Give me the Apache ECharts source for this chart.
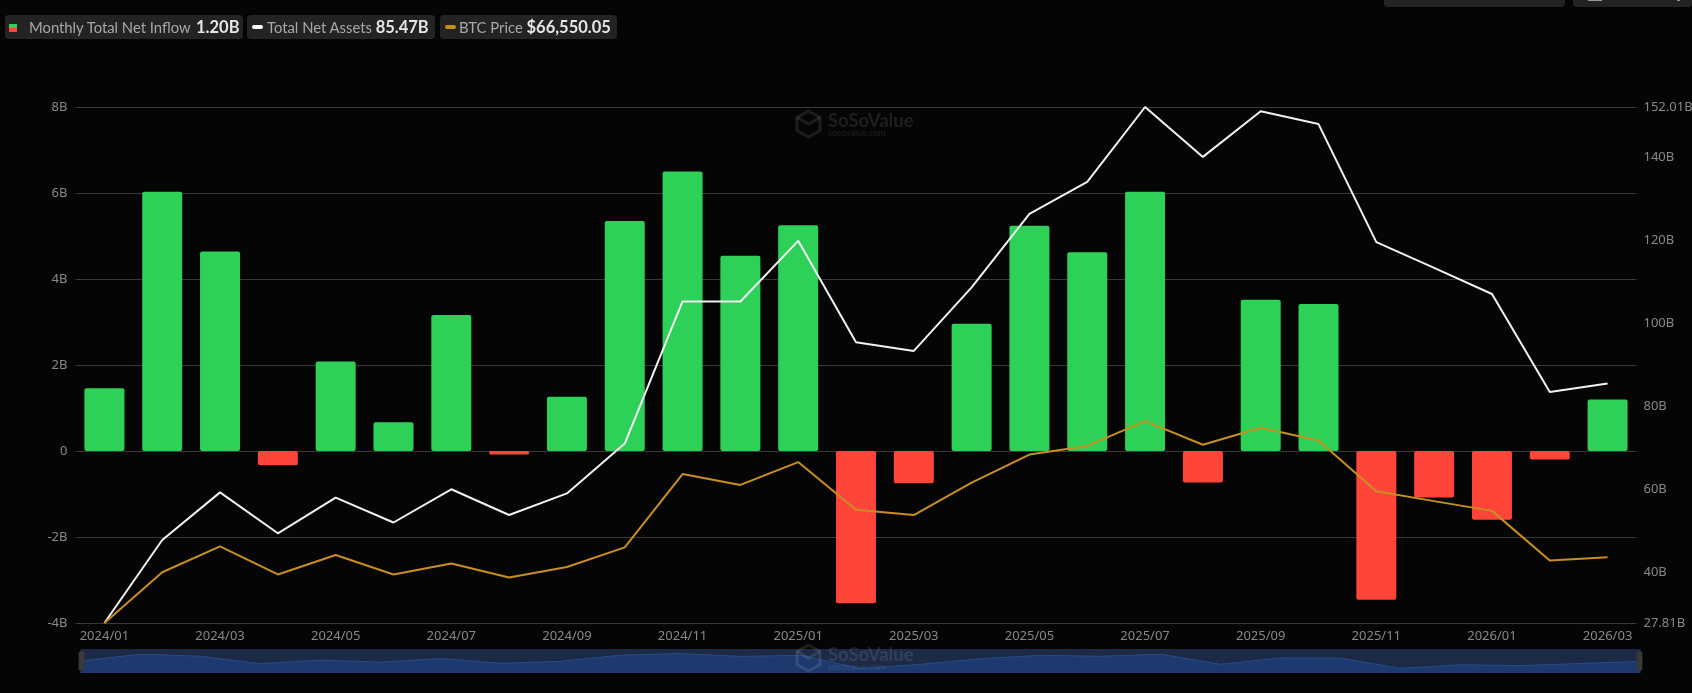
<!DOCTYPE html>
<html>
<head>
<meta charset="utf-8">
<style>
  html,body{margin:0;padding:0;background:#050505;}
  #wrap{position:relative;width:1692px;height:693px;overflow:hidden;font-family:Lato,"Noto Sans",sans-serif;}
  #myechart{position:absolute;left:0;top:0;width:1692px;height:693px;}
  .pill{position:absolute;top:15px;height:24px;line-height:24px;background:#232323;border-radius:4px;color:#a8a8a8;font-size:14.8px;white-space:nowrap;}
  .pill b{color:#e6e6e6;font-size:16.5px;margin-left:2px;}
  .pill i{position:absolute;display:block;}
  .pill span{position:absolute;top:0;}
  .topbtn{position:absolute;top:0;height:7px;background:#232323;border-radius:0 0 4px 4px;}
  .topbit{position:absolute;background:#9a9a9a;}
</style>
</head>
<body>
<div id="wrap">
  <div id="myechart"></div>
  <div class="pill" style="left:5px;width:238px">
    <i style="left:4px;top:9px;width:8px;height:4px;background:#2ed158"></i>
    <i style="left:4px;top:13px;width:8px;height:4px;background:#ff453a"></i>
    <span style="left:24px">Monthly Total Net Inflow <b>1.20B</b></span>
  </div>
  <div class="pill" style="left:247px;width:188px">
    <i style="left:5px;top:10px;width:11px;height:4px;border-radius:2px;background:#fff"></i>
    <span style="left:20px">Total Net Assets <b style="margin-left:0">85.47B</b></span>
  </div>
  <div class="pill" style="left:440px;width:177px">
    <i style="left:5px;top:10px;width:11px;height:4px;border-radius:2px;background:#c98f1e"></i>
    <span style="left:19px">BTC Price <b style="margin-left:0">$66,550.05</b></span>
  </div>
  <div class="topbtn" style="left:1384px;width:181px"></div>
  <div class="topbtn" style="left:1573px;width:119px"></div>
  <div class="topbit" style="left:1588px;top:0;width:14px;height:1px"></div>
  <div class="topbit" style="left:1677px;top:0;width:3px;height:1px"></div>
</div>
<script src="https://cdn.jsdelivr.net/npm/echarts@6/dist/echarts.min.js"></script>
<script>
const months = [
  "2024/01","2024/02","2024/03","2024/04","2024/05","2024/06","2024/07","2024/08","2024/09","2024/10","2024/11","2024/12",
  "2025/01","2025/02","2025/03","2025/04","2025/05","2025/06","2025/07","2025/08","2025/09","2025/10","2025/11","2025/12",
  "2026/01","2026/02","2026/03"
]
// 单位 B
const netInflow = [1.46,6.03,4.64,-0.33,2.08,0.67,3.16,-0.08,1.26,5.35,6.5,4.54,5.25,-3.54,-0.75,2.96,5.24,4.62,6.03,-0.73,3.52,3.42,-3.46,-1.08,-1.6,-0.2,1.2]
const netAssets = [27.81,47.8,59.25,49.4,58,52,60,53.8,59,71,105.2,105.2,119.8,95.4,93.3,108.6,126.3,134,152.01,140,151,147.9,119.5,113.3,107,83.4,85.47]
// 单位 千美元
const btcPrice = [43,61.2,70.5,60.4,67.4,60.4,64.3,59.3,63.1,70.1,96.4,92.5,100.7,83.6,81.7,93.3,103.4,106.5,115.4,106.9,113,108.4,90.2,86.7,83.2,65.4,66.55]
const rightTicks = [27.81,40,60,80,100,120,140,152.01]

const labelColor = '#888888'
const gridColor = '#383838'
const markColor = 'rgba(255,255,255,0.1)'

let myChart = echarts.init(document.getElementById('myechart'), null, {renderer:'canvas'})

// 水印，盖在缩略轴上面
function watermark(x, y){
  return [
    {type:'polygon', shape:{points:[[x+11.5,y],[x+23,y+6.5],[x+23,y+19.5],[x+11.5,y+26],[x,y+19.5],[x,y+6.5]]}, style:{fill:'none',stroke:markColor,lineWidth:3}, z:10, silent:true},
    {type:'polyline', shape:{points:[[x,y+6.5],[x+11.5,y+13],[x+23,y+6.5]]}, style:{fill:'none',stroke:markColor,lineWidth:3}, z:10, silent:true},
    {type:'text', x:x+31, y:y+1, style:{text:'SoSoValue',fill:markColor,font:'bold 18.5px Lato'}, z:10, silent:true},
    {type:'text', x:x+31, y:y+18, style:{text:'sosovalue.com',fill:markColor,font:'9px Lato'}, z:10, silent:true}
  ]
}

let option = {
  backgroundColor:'#050505',
  animation:false,
  graphic:{elements:watermark(797,111).concat(watermark(797,645))},
  // outerBoundsMode 关掉，否则右侧标签会把网格挤窄
  grid:{left:75.5,right:55.5,top:107,height:516,outerBoundsMode:'none'},
  xAxis:{
    type:'category',
    data:months,
    axisLine:{show:false},
    axisTick:{show:false},
    axisLabel:{color:labelColor,fontSize:13,fontFamily:'Noto Sans',interval:1,margin:7,hideOverlap:false}
  },
  yAxis:[
    {
      type:'value',min:-4,max:8,interval:2,
      axisLine:{show:false},axisTick:{show:false},
      splitLine:{lineStyle:{color:gridColor,width:1}},
      axisLabel:{color:labelColor,fontSize:13,fontFamily:'Noto Sans',margin:8,formatter:function(v){return v===0?'0':v+'B'}}
    },
    {
      type:'value',min:27.81,max:152.01,position:'right',
      axisLine:{show:false},axisTick:{show:false},splitLine:{show:false},
      axisLabel:{color:labelColor,fontSize:13,fontFamily:'Noto Sans',margin:7,customValues:rightTicks,formatter:function(v){return v+'B'}}
    },
    {
      type:'value',min:43,max:228,show:false,splitLine:{show:false}
    }
  ],
  dataZoom:[{
    type:'slider',
    left:78,right:54,top:649,height:24,
    start:0,end:100,
    showDetail:false,
    brushSelect:false,
    borderColor:'transparent',
    backgroundColor:'#1c2a45',
    fillerColor:'rgba(30,50,90,0.1)',
    handleIcon:'path://M2,0 L4,0 C5,0 6,1 6,2 L6,22 C6,23 5,24 4,24 L2,24 C1,24 0,23 0,22 L0,2 C0,1 1,0 2,0 Z',
    handleSize:'80%',
    handleStyle:{color:'#3a3a3a',borderColor:'#3a3a3a'},
    moveHandleSize:0,
    dataBackground:{lineStyle:{color:'#27508f',width:1,opacity:1},areaStyle:{color:'#1d3a70',opacity:1}},
    selectedDataBackground:{lineStyle:{color:'#27508f',width:1,opacity:1},areaStyle:{color:'#1d3a70',opacity:1}}
  }],
  series:[
    {
      name:'Monthly Total Net Inflow',
      type:'bar',
      data:netInflow,
      barWidth:40,
      itemStyle:{
        borderRadius:2,
        color:function(p){return p.value>=0?'#2ed158':'#ff453a'}
      }
    },
    {
      name:'Total Net Assets',
      type:'line',
      yAxisIndex:1,
      data:netAssets,
      showSymbol:false,
      lineStyle:{color:'#f2f2f2',width:2}
    },
    {
      name:'BTC Price',
      type:'line',
      yAxisIndex:2,
      data:btcPrice,
      showSymbol:false,
      lineStyle:{color:'#c98f1e',width:2}
    }
  ]
}
myChart.setOption(option)
</script>
</body>
</html>
